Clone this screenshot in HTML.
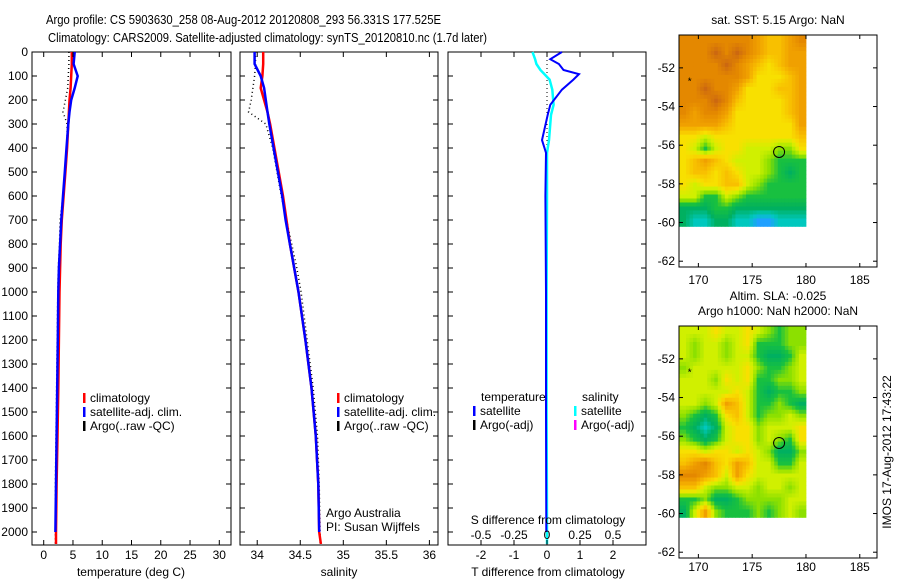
<!DOCTYPE html>
<html><head><meta charset="utf-8"><style>
html,body{margin:0;padding:0;background:#fff;}
svg{display:block;font-family:"Liberation Sans",sans-serif;}
</style></head><body>
<svg id="fig" width="900" height="580" viewBox="0 0 900 580" xmlns="http://www.w3.org/2000/svg">
<text x="46" y="24" font-size="13" textLength="395" lengthAdjust="spacingAndGlyphs">Argo profile: CS 5903630_258 08-Aug-2012 20120808_293 56.331S 177.525E</text>
<text x="48" y="42" font-size="13" textLength="439" lengthAdjust="spacingAndGlyphs">Climatology: CARS2009. Satellite-adjusted climatology: synTS_20120810.nc (1.7d later)</text>
<text x="0" y="0" font-size="12" transform="translate(891,452) rotate(-90)" text-anchor="middle">IMOS 17-Aug-2012 17:43:22</text>
<g id="plots"></g>
</svg>
<script>
// ---------- profile data ----------
const tDepth = [0,50,100,150,200,250,300,400,500,600,700,800,900,1000,1200,1400,1600,1800,2000,2050];
const tClim  = [4.8,4.8,4.7,4.6,4.4,4.3,4.2,4.0,3.7,3.4,3.1,2.9,2.8,2.7,2.6,2.5,2.35,2.2,2.1,2.1];
const tSat   = [5.3,5.1,5.8,5.3,4.7,4.4,4.2,3.9,3.6,3.3,3.0,2.8,2.6,2.5,2.4,2.3,2.2,2.1,2.0,2.0];
const tArgo  = [4.3,4.3,4.2,4.1,3.7,3.3,4.0,4.0,3.6,3.3,2.8,2.7,2.5,2.4,2.3,2.2,2.1,2.0,2.0,2.0];
const sDepth = [0,50,100,150,200,250,300,400,500,600,700,800,900,1000,1200,1400,1600,1800,2000,2050];
const sClim  = [34.07,34.07,34.06,34.04,34.08,34.12,34.15,34.2,34.25,34.3,34.34,34.38,34.43,34.48,34.56,34.63,34.68,34.71,34.72,34.74];
const sSat   = [33.97,33.97,34.04,34.08,34.1,34.12,34.14,34.19,34.24,34.29,34.33,34.38,34.43,34.48,34.56,34.63,34.68,34.71,34.72,34.72];
const sArgo  = [33.98,33.98,33.97,33.95,33.93,33.9,34.1,34.18,34.23,34.28,34.34,34.4,34.46,34.51,34.58,34.65,34.7,34.72,34.73,34.73];
const dDepth = [0,30,50,75,92,115,157,220,262,367,420,600,1000,1500,2000,2050];
const dTsat  = [0.45,0.1,0.36,0.5,0.97,0.8,0.45,0.1,0.02,-0.15,-0.03,-0.05,-0.03,-0.03,-0.02,-0.02];
const dSsat  = [-0.11,-0.09,-0.08,-0.05,-0.02,0.02,0.04,0.05,0.03,0.015,0.0,0.0,-0.003,-0.003,0.0,0.0];
const depthTicks = [0,100,200,300,400,500,600,700,800,900,1000,1100,1200,1300,1400,1500,1600,1700,1800,1900,2000];
const tTicks = [0,5,10,15,20,25,30];
const sTicks = [34,34.5,35,35.5,36];
const sTickLabels = ["34","34.5","35","35.5","36"];
const dTTicks = [-2,-1,0,1,2];
const dSTicks = [-0.5,-0.25,0,0.25,0.5];
const dSTickLabels = ["-0.5","-0.25","0","0.25","0.5"];
// ---------- map data (rows top->bottom, cols west->east) ----------
const sstGrid = [
[9,9,9,9,9,9,9,8,7,7,8,9],[9,9,9,10,9,10,9,8,7,7,8,8],[9,9,9,9,10,9,8,7,6,7,8,8],[9,9,9,9,9,9,8,6,6,6,7,8],
[9,9,10,9,9,8,6,6,6,7,7,8],[9,9,9,10,9,7,6,6,6,6,7,8],[9,8,9,9,8,6,6,6,6,6,7,8],[8,8,8,8,7,6,6,6,6,6,6,8],
[6,6,5,6,6,6,6,6,6,6,6,7],[6,5,3,5,6,6,5,5,5,4,4,6],[6,7,8,7,6,5,5,5,4,3,3,3],[6,7,7,6,7,6,5,5,4,3,2,3],
[6,5,6,6,7,7,5,4,3,3,3,3],[5,5,3,3,5,4,3,3,3,3,3,3],[2,2,2,3,3,2,2,2,2,2,2,2],[2,1,1,2,2,1,1,0,0,1,1,1]];
const slaGrid = [
[5,5,5,6,5,5,6,5,4,3,4,4],[5,4,5,5,4,5,6,3,3,3,4,4],[5,4,5,5,4,5,5,3,2,2,3,5],[4,5,5,5,5,5,6,4,3,3,4,5],
[5,5,5,4,6,5,6,3,3,4,4,5],[5,5,5,5,5,6,5,3,2,3,3,4],[5,5,4,5,8,7,5,3,3,4,3,2],[4,3,2,3,6,7,5,3,4,4,5,4],
[3,2,1,2,5,6,6,4,5,5,5,6],[4,3,2,3,5,6,6,4,5,4,3,6],[6,6,5,6,6,5,6,5,4,2,2,4],[7,8,9,7,6,8,7,5,5,3,3,5],
[9,9,8,7,5,8,6,5,5,5,5,5],[7,7,5,4,4,5,5,4,5,5,4,5],[3,3,4,2,2,3,4,4,4,4,5,5],[2,5,8,4,3,3,3,4,3,4,5,4]];
const colorRamp = [[32,160,255],[0,200,190],[0,176,96],[24,192,64],[140,224,0],[208,240,0],[248,224,0],[248,192,0],[240,160,0],[228,136,0],[204,104,16]];
const lonTicks = [170,175,180,185];
const latTicks = [-52,-54,-56,-58,-60,-62];
const floatLon = 177.5, floatLat = -56.35;
const starLon = 169.2, starLat = -52.6;

const NS="http://www.w3.org/2000/svg";
const root=document.getElementById('plots');
function mk(tag,attrs,parent){const e=document.createElementNS(NS,tag);for(const k in attrs)e.setAttribute(k,attrs[k]);(parent||root).appendChild(e);return e;}
function txt(s,x,y,attrs,parent){const e=mk('text',Object.assign({x:x,y:y,'font-size':12},attrs||{}),parent);e.textContent=s;return e;}

const Y0=52, YB=545;
const yD = d => Y0 + d*0.24;

function panel(name,x0,x1,xmin,xmax,leftLabels){
  const g=mk('g',{});
  
  
  const xs=v=>x0+(v-xmin)/(xmax-xmin)*(x1-x0);
  mk('rect',{x:x0,y:Y0,width:x1-x0,height:YB-Y0,fill:'none',stroke:'#000','stroke-width':1},g);
  depthTicks.forEach(d=>{
    const y=yD(d);
    mk('line',{x1:x0,y1:y,x2:x0+5,y2:y,stroke:'#000'},g);
    mk('line',{x1:x1-5,y1:y,x2:x1,y2:y,stroke:'#000'},g);
    if(leftLabels){const t=txt(String(d),28,y+4,{'text-anchor':'end'},g);
      
      }
  });
  return {g,xs};
}
function line(g,xs,depths,vals,color,w,dash,name,n){
  const pts=[];
  for(let i=0;i<(n||vals.length);i++)pts.push(xs(vals[i]).toFixed(1)+','+yD(depths[i]).toFixed(1));
  const p=mk('polyline',{points:pts.join(' '),fill:'none',stroke:color,'stroke-width':w},g);
  if(dash)p.setAttribute('stroke-dasharray',dash);
  
  
}
function xticks(g,xs,ticks,labels,y){
  ticks.forEach((v,i)=>{const x=xs(v);
    mk('line',{x1:x,y1:Y0,x2:x,y2:Y0+5,stroke:'#000'},g);
    mk('line',{x1:x,y1:YB-5,x2:x,y2:YB,stroke:'#000'},g);
    const t=txt(labels[i],x,y,{'text-anchor':'middle'},g);
    
    
  });
}
function legend(g,items,x,y){
  items.forEach((it,i)=>{
    mk('rect',{x:x,y:y+i*14-9,width:2.5,height:10,fill:it[1]},g);
    const t=txt(it[0],x+7,y+i*14,{},g);
    
    
  });
}

// Panel 1 temperature
let P=panel('temperature-panel',32,231,-2,32,true);
line(P.g,P.xs,tDepth,tArgo,'#000',1.5,'1,3','argo-temperature-line');
line(P.g,P.xs,tDepth,tClim,'#ff0000',2.5,null,'clim-temperature-line');
line(P.g,P.xs,tDepth,tSat,'#0000ff',2.5,null,'sat-temperature-line',19);
xticks(P.g,P.xs,tTicks,tTicks.map(String),559);
let t=txt('temperature (deg C)',131,576,{'text-anchor':'middle'},P.g);


legend(P.g,[['climatology','#f00'],['satellite-adj. clim.','#00f'],['Argo(..raw -QC)','#000']],83,402);

// Panel 2 salinity
P=panel('salinity-panel',240,438,33.8,36.1,false);
line(P.g,P.xs,sDepth,sArgo,'#000',1.5,'1,3','argo-salinity-line');
line(P.g,P.xs,sDepth,sClim,'#ff0000',2.5,null,'clim-salinity-line');
line(P.g,P.xs,sDepth,sSat,'#0000ff',2.5,null,'sat-salinity-line',19);
xticks(P.g,P.xs,sTicks,sTickLabels,559);
t=txt('salinity',339,576,{'text-anchor':'middle'},P.g);


legend(P.g,[['climatology','#f00'],['satellite-adj. clim.','#00f'],['Argo(..raw -QC)','#000']],337,402);
t=txt('Argo Australia',326,517,{},P.g);


t=txt('PI: Susan Wijffels',326,531,{},P.g);



// Panel 3 differences
P=panel('difference-panel',448,646,-3,3,false);
const xsS=v=>P.xs(v*4);
mk('line',{x1:P.xs(0),y1:yD(0),x2:P.xs(0),y2:yD(420),stroke:'#000','stroke-dasharray':'1,3'},P.g);
line(P.g,xsS,dDepth,dSsat,'#00ffff',2.5,null,'sat-salinity-diff-line');
line(P.g,P.xs,dDepth,dTsat,'#0000ff',2,null,'sat-temperature-diff-line',15);
xticks(P.g,P.xs,dTTicks,dTTicks.map(String),559);
dSTicks.forEach((v,i)=>{const tt=txt(dSTickLabels[i],xsS(v),539,{'text-anchor':'middle'},P.g);
  
  });
t=txt('S difference from climatology',548,524,{'text-anchor':'middle'},P.g);


t=txt('T difference from climatology',548,576,{'text-anchor':'middle'},P.g);


t=txt('temperature',481,401,{},P.g);


t=txt('salinity',582,401,{},P.g);


legend(P.g,[['satellite','#00f'],['Argo(-adj)','#000']],473,415);
legend(P.g,[['satellite','#0ff'],['Argo(-adj)','#f0f']],574,415);

// colour lookup with interpolation between ramp stops
function rampColor(v){
  v=Math.max(0,Math.min(colorRamp.length-1,v));
  const i=Math.min(colorRamp.length-2,Math.floor(v)),f=v-i;
  const a=colorRamp[i],b=colorRamp[i+1];
  return 'rgb('+a.map((c,k)=>Math.round(c+(b[k]-c)*f)).join(',')+')';
}
function sample(grid,r,c){ // bilinear sample at fractional cell-centre coords
  const R=grid.length-1,C=grid[0].length-1;
  r=Math.max(0,Math.min(R,r));c=Math.max(0,Math.min(C,c));
  const r0=Math.floor(r),c0=Math.floor(c),r1=Math.min(R,r0+1),c1=Math.min(C,c0+1),fr=r-r0,fc=c-c0;
  return grid[r0][c0]*(1-fr)*(1-fc)+grid[r0][c1]*(1-fr)*fc+grid[r1][c0]*fr*(1-fc)+grid[r1][c1]*fr*fc;
}
// Maps
function map(name,top,grid,titles,xlabY){
  const g=mk('g',{});
  
  
  const L=679,R=877,B=top+232;
  const lonMin=168.2,lonMax=186.6,latMax=-50.3,latMin=-62.3;
  const xl=v=>L+(v-lonMin)/(lonMax-lonMin)*(R-L);
  const yl=v=>top+(latMax-v)/(latMax-latMin)*(B-top);
  const rows=grid.length,cols=grid[0].length,S=3;
  const gl0=168.2,gl1=180.0,gt0=-50.3,gt1=-60.2;
  const cw=(gl1-gl0)/(cols*S),ch=(gt0-gt1)/(rows*S);
  for(let r=0;r<rows*S;r++)for(let c=0;c<cols*S;c++){
    const x=xl(gl0+c*cw),y=yl(gt0-r*ch);
    const v=sample(grid,(r+0.5)/S-0.5,(c+0.5)/S-0.5);
    const cell=mk('rect',{x:x.toFixed(2),y:y.toFixed(2),width:(xl(gl0+(c+1)*cw)-x+0.4).toFixed(2),height:(yl(gt0-(r+1)*ch)-y+0.4).toFixed(2),fill:rampColor(v)},g);
    
    
  }
  mk('rect',{x:L,y:top,width:R-L,height:B-top,fill:'none',stroke:'#000'},g);
  lonTicks.forEach(v=>{const x=xl(v);
    mk('line',{x1:x,y1:top,x2:x,y2:top+4,stroke:'#000'},g);
    mk('line',{x1:x,y1:B-4,x2:x,y2:B,stroke:'#000'},g);
    const tt=txt(String(v),x,xlabY,{'text-anchor':'middle'},g);
    
    });
  latTicks.forEach(v=>{const y=yl(v);
    mk('line',{x1:L,y1:y,x2:L+4,y2:y,stroke:'#000'},g);
    mk('line',{x1:R-4,y1:y,x2:R,y2:y,stroke:'#000'},g);
    const tt=txt(String(v),675,y+4,{'text-anchor':'end'},g);
    
    });
  const star=txt('*',xl(starLon),yl(starLat)+5,{'text-anchor':'middle','font-size':10},g);
  
  
  const circ=mk('circle',{cx:xl(floatLon),cy:yl(floatLat),r:5.5,fill:'none',stroke:'#000'},g);
  
  
  titles.forEach((s,i)=>{const tt=txt(s,778,top-15+i*15-(titles.length-1)*15+4,{'text-anchor':'middle'},g);
    
    });
}
map('sst-map',35,sstGrid,['sat. SST: 5.15 Argo: NaN'],284);
map('sla-map',326,slaGrid,['Altim. SLA: -0.025','Argo h1000: NaN h2000: NaN'],571);
</script>
</body></html>
